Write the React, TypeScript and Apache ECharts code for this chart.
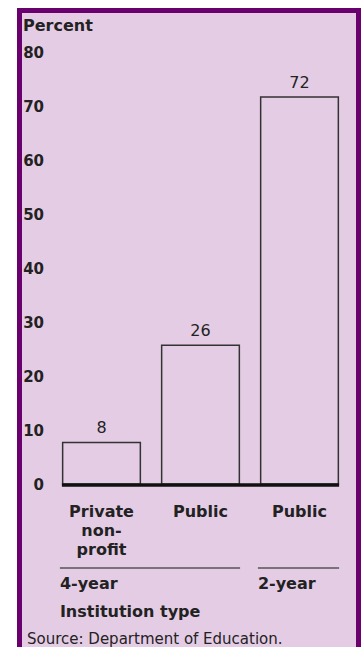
import React, { useEffect, useRef } from "react";
import * as echarts from "echarts";

const categories = ["Private\nnon-\nprofit", "Public", "Public"];
const values = [8, 26, 72];
const yTicks = { min: 0, max: 80, interval: 10 };
const groups = [
  { label: "4-year", from: 0, to: 1 },
  { label: "2-year", from: 2, to: 2 },
];
const yTitle = "Percent";
const xTitle = "Institution type";
const source = "Source: Department of Education.";

const FONT = "DejaVu Sans";
const TEXT = "#222";
const PURPLE = "#6a006e";
const LAVENDER = "#e5cce5";

export default function App() {
  const ref = useRef<HTMLDivElement>(null);
  useEffect(() => {
    if (!ref.current) return;
    const chart = echarts.init(ref.current, null, { renderer: "svg" });
    const option: any = {
      animation: false,
      backgroundColor: "#fff",
      grid: { left: 52, right: 15, top: 53, bottom: 162 },
      xAxis: {
        type: "category",
        data: categories,
        axisLine: { show: false },
        axisTick: { show: false },
        axisLabel: {
          fontFamily: FONT,
          fontWeight: "bold",
          fontSize: 16,
          lineHeight: 19,
          color: TEXT,
          margin: 17,
          verticalAlign: "top",
        },
      },
      yAxis: {
        type: "value",
        min: yTicks.min,
        max: yTicks.max,
        interval: yTicks.interval,
        splitLine: { show: false },
        axisLine: { show: false },
        axisTick: { show: false },
        axisLabel: {
          fontFamily: FONT,
          fontWeight: "bold",
          fontSize: 15,
          color: TEXT,
          margin: 8,
        },
      },
      series: [
        {
          type: "bar",
          data: values,
          barCategoryGap: "20%",
          z: 3,
          itemStyle: {
            color: "rgba(0,0,0,0)",
            borderColor: "#333",
            borderWidth: 1.5,
          },
          label: {
            show: true,
            position: "top",
            distance: 6,
            fontFamily: FONT,
            fontSize: 16,
            color: TEXT,
          },
        },
      ],
      graphic: [],
    };
    chart.setOption(option);

    const yZero = chart.convertToPixel({ yAxisIndex: 0 }, 0) as number;
    const c0 = chart.convertToPixel({ xAxisIndex: 0 }, 0) as number;
    const c1 = chart.convertToPixel({ xAxisIndex: 0 }, 1) as number;
    const band = c1 - c0;
    const half = band * 0.4;
    const lastC = chart.convertToPixel({ xAxisIndex: 0 }, categories.length - 1) as number;

    const graphics: any[] = [
      {
        type: "rect",
        z: -10,
        silent: true,
        shape: { x: 19.5, y: 10.5, width: 339, height: 700 },
        style: { fill: LAVENDER, stroke: PURPLE, lineWidth: 5 },
      },
      {
        type: "text",
        x: 23,
        y: 25,
        style: {
          text: yTitle,
          fontFamily: FONT,
          fontWeight: "bold",
          fontSize: 16,
          fill: TEXT,
          verticalAlign: "middle",
        },
      },
      {
        type: "line",
        z: 10,
        shape: { x1: c0 - half, y1: yZero, x2: lastC + half, y2: yZero },
        style: { stroke: "#111", lineWidth: 3.5 },
      },
      {
        type: "text",
        x: c0 - half - 2,
        y: 611,
        style: {
          text: xTitle,
          fontFamily: FONT,
          fontWeight: "bold",
          fontSize: 16,
          fill: TEXT,
          verticalAlign: "middle",
        },
      },
      {
        type: "text",
        x: 27,
        y: 639,
        style: {
          text: source,
          fontFamily: FONT,
          fontSize: 15,
          fill: TEXT,
          verticalAlign: "middle",
        },
      },
    ];
    groups.forEach((g) => {
      const a = chart.convertToPixel({ xAxisIndex: 0 }, g.from) as number;
      const b = chart.convertToPixel({ xAxisIndex: 0 }, g.to) as number;
      graphics.push({
        type: "line",
        shape: { x1: a - half - 2, y1: 568, x2: b + half, y2: 568 },
        style: { stroke: "#555", lineWidth: 1.5 },
      });
      graphics.push({
        type: "text",
        x: a - half - 2,
        y: 583,
        style: {
          text: g.label,
          fontFamily: FONT,
          fontWeight: "bold",
          fontSize: 16,
          fill: TEXT,
          verticalAlign: "middle",
        },
      });
    });
    chart.setOption({ graphic: graphics });
    return () => chart.dispose();
  }, []);
  return (
    <div
      ref={ref}
      style={{ position: "fixed", left: 0, top: 0, width: 364, height: 647 }}
    />
  );
}
